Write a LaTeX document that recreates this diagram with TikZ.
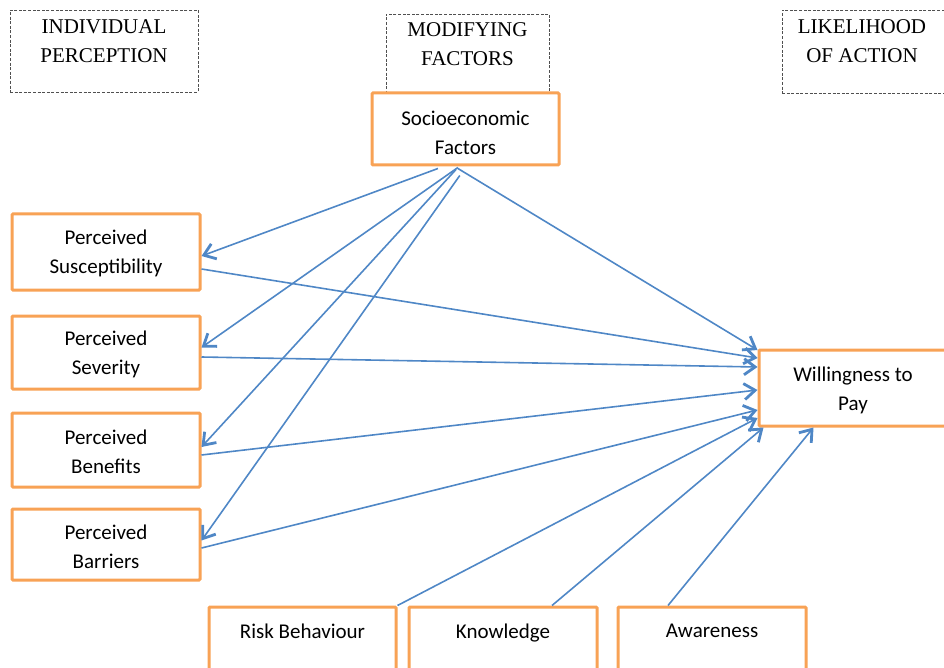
\documentclass[tikz,border=0pt]{standalone}
\usepackage{fontspec}
\setmainfont{Liberation Serif}
\newfontfamily\boxfont{Carlito}
\usetikzlibrary{arrows.meta,calc}
\definecolor{boxorange}{HTML}{F8A255}
\definecolor{arrblue}{HTML}{4F87C6}
\definecolor{dashgray}{HTML}{505050}
\begin{document}
\begin{tikzpicture}[x=1pt,y=-1pt,
  hdrbox/.style={draw=dashgray, line width=0.8pt, dash pattern=on 3pt off 1.6pt, inner sep=0pt},
  hdrtext/.style={anchor=north, inner sep=0pt, align=center, font=\fontsize{21}{29}\selectfont},
  obox/.style={draw=boxorange, line width=3pt, fill=white, inner sep=0pt, minimum width=188pt,
     rounded corners=1pt},
  otext/.style={inner sep=0pt, align=center, font=\boxfont\fontsize{21}{29}\selectfont},
  btext/.style={anchor=north, inner sep=0pt, font=\boxfont\fontsize{21}{29}\selectfont},
  arr/.style={draw=arrblue, line width=1.6pt, -{Straight Barb[length=11pt,width=16pt,line width=2.8pt]}}]
\path[use as bounding box, clip] (0,0) rectangle (944,668);
% header dashed boxes
\node[hdrbox, minimum width=188pt, minimum height=82pt] (ip) at (104,51) {};
\node[hdrtext] (ipt) at (104,19) {INDIVIDUAL\\PERCEPTION};
\node[hdrbox, minimum width=163pt, minimum height=80pt] (mf) at (467.5,54) {};
\node[hdrtext] (mft) at (467.5,22) {MODIFYING\\FACTORS};
\node[hdrbox, minimum width=164pt, minimum height=83pt] (la) at (864,51.5) {};
\node[hdrtext] (lat) at (862,19) {LIKELIHOOD\\OF ACTION};
% orange boxes
\node[obox, minimum width=187pt, minimum height=72pt] (soc) at (465.5,129) {};
\node[otext] (soct) at (465.5,132.5) {Socioeconomic\\Factors};
\node[obox, minimum height=76pt] (sus) at (106,252) {};
\node[otext] (sust) at (106,253.5) {Perceived\\Susceptibility};
\node[obox, minimum height=73pt] (sev) at (106,352.5) {};
\node[otext] (sevt) at (106,354.5) {Perceived\\Severity};
\node[obox, minimum height=74pt] (ben) at (106,450) {};
\node[otext] (bent) at (106,452) {Perceived\\Benefits};
\node[obox, minimum height=71pt] (bar) at (106,544.5) {};
\node[otext] (bart) at (106,546.5) {Perceived\\Barriers};
\node[obox, minimum height=76pt] (wtp) at (853,388) {};
\node[otext] (wtpt) at (853,390) {Willingness to\\Pay};
\node[obox, minimum width=187pt, minimum height=78pt] (risk) at (302.5,646) {};
\node[btext] (riskt) at (302.5,624) {Risk Behaviour};
\node[obox, minimum height=78pt] (know) at (503,646) {};
\node[btext] (knowt) at (503,624) {Knowledge};
\node[obox, minimum height=78pt] (aware) at (712,646) {};
\node[btext] (awaret) at (712,624) {Awareness};
% arrows from socioeconomic factors
\draw[arr] ($(soc.south west)!0.355!(soc.south east)+(0,2)$) -- ($(sus.east)+(0,4)$);
\draw[arr] ($(soc.south west)!0.46!(soc.south east)+(0,1)$) -- ($(sev.east)+(0,-5)$);
\draw[arr] ($(soc.south west)!0.45!(soc.south east)+(0,3)$) -- ($(ben.east)+(0,-3)$);
\draw[arr] ($(soc.south west)!0.47!(soc.south east)+(0,9)$) -- ($(bar.east)+(0,-4)$);
\draw[arr] ($(soc.south west)!0.46!(soc.south east)+(0,2)$) -- ($(wtp.west)+(0,-38)$);
% arrows to willingness to pay
\draw[arr] ($(sus.east)+(0,17)$) -- ($(wtp.west)+(0,-30)$);
\draw[arr] ($(sev.east)+(0,4.5)$) -- ($(wtp.west)+(0,-21)$);
\draw[arr] ($(ben.east)+(0,5)$) -- ($(wtp.west)+(0,2)$);
\draw[arr] ($(bar.east)+(0,3.5)$) -- ($(wtp.west)+(0,22)$);
\draw[arr] (risk.north east) -- ($(wtp.west)+(0,30)$);
\draw[arr] ($(know.north)+(49,0)$) -- ($(wtp.south west)+(6,0)$);
\draw[arr] ($(aware.north)+(-44,0)$) -- ($(wtp.south west)+(56,0)$);
\end{tikzpicture}
\end{document}
